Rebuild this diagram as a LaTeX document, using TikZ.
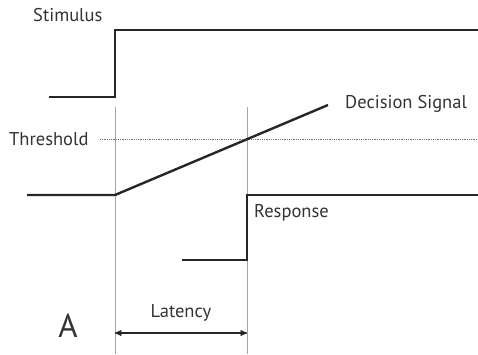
\documentclass[tikz,border=0pt]{standalone}
\usepackage{fontspec}
\setmainfont{PT Sans}
\usetikzlibrary{arrows}
\usetikzlibrary{positioning}
\tikzset{
  signal/.style={line width=2.4pt,color=black!85,line join=miter},
  marker/.style={line width=0.6pt,color=black!35},
  lbl/.style={inner sep=0pt,font=\fontsize{18.5}{20}\selectfont,color=black!80}
}
\begin{document}
\begin{tikzpicture}[line cap=butt,>=stealth',x=1pt,y=-1pt]
\useasboundingbox (0,0) rectangle (478,354);
% time markers
\foreach \t in {115,247}
\draw[marker] (\t,107) -- (\t,354);
\draw[marker,color=black!55,dash pattern=on 0.8pt off 1pt,line width=0.8pt] (100,139) -- (478,139);
% traces
\draw[signal] (49,97) -- (115,97) -- (115,30) -- (478,30);
\draw[signal] (27,195) -- (115,195) -- (328,105);
\draw[signal] (182,260) -- (247,260) -- (247,195) -- (478,195);
% labels
\node[lbl,anchor=west] (stim) at (33,15) {Stimulus};
\node[lbl,anchor=west] (thr) at (9,139) {Threshold};
\node[lbl,anchor=west] (dec) at (345,104) {Decision Signal};
\node[lbl,anchor=west] (resp) at (254,213) {Response};
\node[lbl] (lat) at (181,313) {Latency};
\node[lbl,font=\fontsize{33}{35}\selectfont] (panel) at (68,326) {A};
\coordinate (l0) at (115,333);
\coordinate (l1) at (247,333);
\draw[<->,line width=1.3pt,color=black!85,>=stealth',shorten >=0pt] (l0) -- (l1);
\end{tikzpicture}
\end{document}
